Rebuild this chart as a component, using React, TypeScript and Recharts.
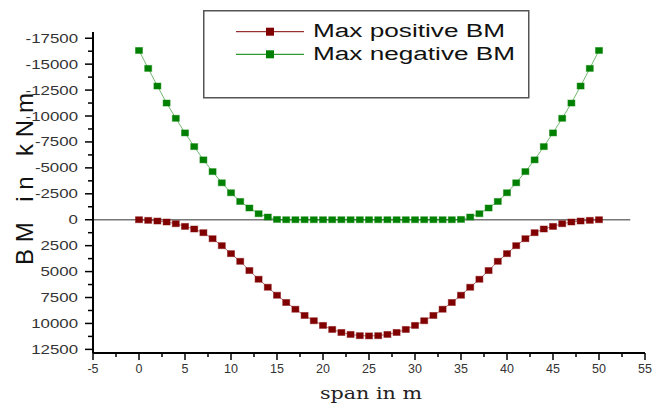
import { LineChart, Line, XAxis, YAxis, ReferenceLine, Legend, Label } from "recharts";

const spanX = [
  0, 1, 2, 3, 4, 5, 6, 7, 8, 9, 10, 11, 12, 13, 14, 15, 16, 17, 18, 19, 20, 21, 22, 23, 24, 25,
  26, 27, 28, 29, 30, 31, 32, 33, 34, 35, 36, 37, 38, 39, 40, 41, 42, 43, 44, 45, 46, 47, 48, 49, 50,
];

const positiveBM = [
  0, 60, 125, 220, 385, 645, 895, 1250, 1830, 2500, 3270, 4010, 4900, 5740, 6510, 7280, 7980, 8630,
  9230, 9740, 10190, 10580, 10870, 11060, 11180, 11200, 11180, 11060, 10870, 10580, 10190, 9740,
  9230, 8630, 7980, 7280, 6510, 5740, 4900, 4010, 3270, 2500, 1830, 1250, 895, 645, 385, 220, 125,
  60, 0,
];

const negativeBM = [
  -16320, -14590, -12890, -11250, -9780, -8370, -7050, -5770, -4640, -3560, -2600, -1760, -1130,
  -580, -260, -30, 0, 0, 0, 0, 0, 0, 0, 0, 0, 0, 0, 0, 0, 0, 0, 0, 0, 0, 0, -30, -260, -580, -1130,
  -1760, -2600, -3560, -4640, -5770, -7050, -8370, -9780, -11250, -12890, -14590, -16320,
];

const seriesNames = ["Max positive BM", "Max negative BM"];

const xTicks = [
  -5, -2.5, 0, 2.5, 5, 7.5, 10, 12.5, 15, 17.5, 20, 22.5, 25, 27.5, 30, 32.5, 35, 37.5, 40, 42.5,
  45, 47.5, 50, 52.5, 55,
];

const yTicks = [
  -17500, -16250, -15000, -13750, -12500, -11250, -10000, -8750, -7500, -6250, -5000, -3750,
  -2500, -1250, 0, 1250, 2500, 3750, 5000, 6250, 7500, 8750, 10000, 11250, 12500,
];

const rows = spanX.map((x, i) => ({ x, pos: positiveBM[i], neg: negativeBM[i] }));

const RED = "#800000";
const GREEN = "#008000";

const XTick = (props: any) => {
  const { x, y, payload } = props;
  const major = payload.value % 5 === 0;
  return (
    <g>
      <line x1={x} x2={x} y1={y} y2={y + (major ? 7 : 4)} stroke="#000" strokeWidth={1.5} />
      {major && (
        <text x={x} y={y + 20} textAnchor="middle" fontSize={12.5} fill="#333"
          fontFamily="'Liberation Sans', Arial, sans-serif">
          {payload.value}
        </text>
      )}
    </g>
  );
};

const YTick = (props: any) => {
  const { x, y, payload } = props;
  const major = payload.value % 2500 === 0;
  return (
    <g>
      <line x1={x} x2={x - (major ? 8 : 5)} y1={y} y2={y} stroke="#000" strokeWidth={1.5} />
      {major && (
        <text transform={`translate(${x - 15},${y + 4.5}) scale(1.35,1)`} textAnchor="end"
          fontSize={12.5} fill="#333" fontFamily="'Liberation Sans', Arial, sans-serif">
          {payload.value}
        </text>
      )}
    </g>
  );
};

const squareDot = (color: string) => (props: any) => {
  const { cx, cy, index } = props;
  if (cx == null || cy == null) return <g key={index} />;
  return (
    <rect key={index} x={cx - 3.5} y={cy - 3} width={7} height={6} fill={color}
      stroke={color} strokeOpacity={0.45} strokeWidth={1} />
  );
};

const LegendBox = (props: any) => {
  const items = [...(props.payload || [])].sort(
    (a: any, b: any) => seriesNames.indexOf(a.value) - seriesNames.indexOf(b.value)
  );
  const lengths = [192, 202];
  return (
    <svg width={327} height={89} style={{ display: "block" }}>
      <rect x={0.75} y={0.75} width={325} height={87} fill="#fff" stroke="#555" strokeWidth={1.5} />
      {items.map((it: any, i: number) => {
        const ly = 21.7 + i * 22.6;
        return (
          <g key={it.value}>
            <line x1={33} x2={101} y1={ly} y2={ly} stroke={it.color} strokeWidth={1} />
            <rect x={63} y={ly - 4} width={8} height={8} fill={it.color} />
            <text x={110} y={ly + 5.2} fontSize={18} fill="#111" textLength={lengths[i]}
              lengthAdjust="spacingAndGlyphs" fontFamily="'Liberation Sans', Arial, sans-serif">
              {it.value}
            </text>
          </g>
        );
      })}
    </svg>
  );
};

const YLabel = () => (
  <text transform="translate(33,179) rotate(-90)" textAnchor="middle" fontSize={24} fill="#111"
    textLength={172} lengthAdjust="spacing" fontFamily="'Liberation Sans', Arial, sans-serif">
    BM in kNm
  </text>
);

const XLabel = () => (
  <text x={371} y={399} textAnchor="middle" fontSize={17.5} fill="#222" textLength={102}
    lengthAdjust="spacingAndGlyphs" fontFamily="'DejaVu Serif', 'Liberation Serif', serif">
    span in m
  </text>
);

export default function App() {
  return (
    <div style={{ position: "absolute", left: 0, top: 0, background: "#fff" }}>
      <LineChart width={655} height={408} data={rows}
        margin={{ top: 32, right: 10, bottom: 0, left: 0 }}>
        <XAxis dataKey="x" type="number" domain={[-5, 55]} ticks={xTicks} interval={0} height={55}
          tickLine={false} tickSize={0} tickMargin={0} tick={<XTick />}
          axisLine={{ stroke: "#000", strokeWidth: 2 }} allowDataOverflow>
          <Label content={<XLabel />} />
        </XAxis>
        <YAxis type="number" reversed domain={[-18100, 12850]} ticks={yTicks} interval={0}
          width={93} tickLine={false} tickSize={0} tickMargin={0} tick={<YTick />}
          axisLine={{ stroke: "#000", strokeWidth: 2 }} allowDataOverflow>
          <Label content={<YLabel />} />
        </YAxis>
        <ReferenceLine segment={[{ x: -5, y: 0 }, { x: 53.4, y: 0 }]} stroke="#777" strokeWidth={1.5} />
        <Legend layout="vertical" verticalAlign="middle" align="center" content={<LegendBox />}
          wrapperStyle={{ position: "absolute", left: 203, top: 10, width: 327, height: 89 }} />
        <Line name="Max positive BM" dataKey="pos" stroke={RED} strokeOpacity={0.55} strokeWidth={1}
          dot={squareDot(RED)} legendType="square" isAnimationActive={false} />
        <Line name="Max negative BM" dataKey="neg" stroke={GREEN} strokeOpacity={0.55} strokeWidth={1}
          dot={squareDot(GREEN)} legendType="square" isAnimationActive={false} />
      </LineChart>
    </div>
  );
}
